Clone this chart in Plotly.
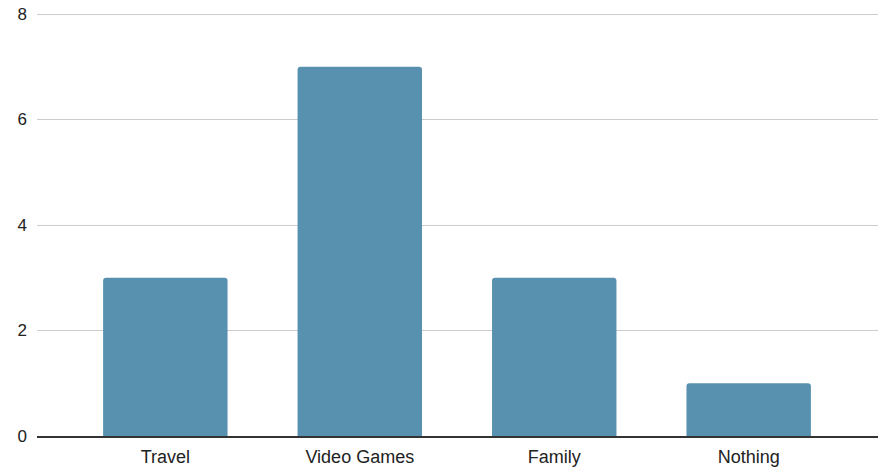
import plotly.graph_objects as go

categories = ["Travel", "Video Games", "Family", "Nothing"]
values = [3, 7, 3, 1]
y_ticks = [0, 2, 4, 6, 8]

fig = go.Figure(go.Bar(
    x=categories, y=values,
    marker=dict(color="#5891AF", cornerradius=3, line=dict(width=0)),
    width=0.64,
))
fig.update_layout(
    width=884, height=469,
    margin=dict(l=37, r=6, t=13, b=33, autoexpand=False),
    paper_bgcolor="white", plot_bgcolor="white",
    font=dict(family="Liberation Sans, Arial", size=18, color="#222222"),
    showlegend=False,
)
fig.update_xaxes(
    range=[-0.66, 3.665], showline=True, linecolor="#333333", linewidth=1.5,
    showgrid=False, ticks="", tickfont=dict(size=18), automargin=False,
    ticklabelstandoff=4,
)
fig.update_yaxes(
    range=[0, 8.02], tickvals=y_ticks, showgrid=True, gridcolor="#cccccc", gridwidth=1,
    zeroline=False, showline=False, ticks="", ticklabelstandoff=9,
    tickfont=dict(size=17), automargin=False,
)
fig.write_html(
    "out.html",
    config={"displayModeBar": False},
    post_script="document.body.style.margin='0';document.body.style.overflow='hidden';",
)
